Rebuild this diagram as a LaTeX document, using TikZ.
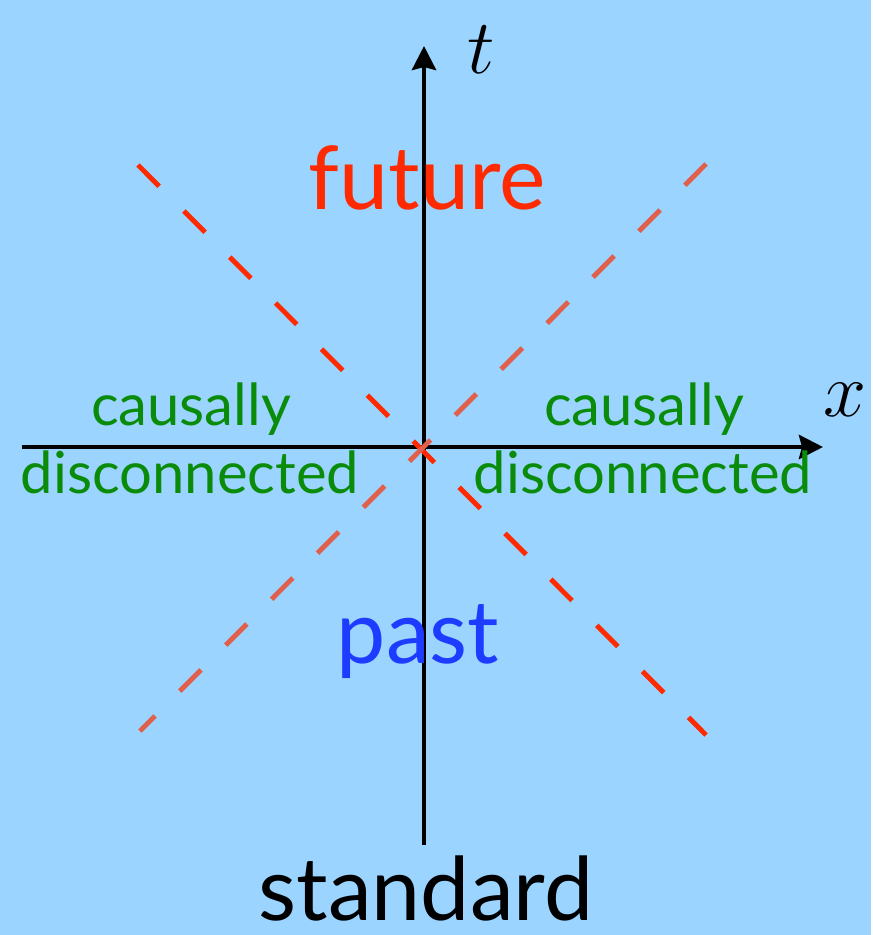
\RequirePackage{fix-cm}
\documentclass[tikz,border=0pt]{standalone}
\usepackage{fontspec}
\setmainfont{Lato}
\usepackage{xcolor}
\usetikzlibrary{arrows.meta,positioning,calc}

\definecolor{skyblue}{HTML}{9AD4FF}
\definecolor{futurered}{HTML}{FF2A00}
\definecolor{conered}{HTML}{E0604C}
\definecolor{pastblue}{HTML}{1E3CFF}
\definecolor{causegreen}{HTML}{0A8C0A}

\begin{document}
\begin{tikzpicture}[
  x=0.02cm, y=-0.02cm,
  axis/.style={line width=2.6pt, -{Stealth[length=0.48cm, width=0.48cm, inset=0.06cm]}},
  cone/.style={line width=2.8pt, dash pattern=on 0.6cm off 0.7cm},
  big/.style={font=\fontsize{50}{52}\selectfont, anchor=base, inner sep=0pt},
  small/.style={font=\fontsize{33}{35}\selectfont, causegreen, anchor=base, inner sep=0pt},
  axlabel/.style={font=\fontsize{44}{46}\selectfont}
]
\fill[skyblue] (0,0) rectangle (871,935);

% axes
\coordinate (O) at (424,447);
\coordinate (tlow) at (424,845);
\coordinate (ttop) at (424,46);
\coordinate (xlow) at (22,447);
\coordinate (xtop) at (823,447);
\draw[axis] (tlow) -- (ttop);
\draw[axis] (xlow) -- (xtop);
\node[axlabel] (tlab) at (481,50) {$t$};
\node[axlabel] (xlab) at (845,400) {$x$};

% light cone
\coordinate (nw) at (138,165);
\coordinate (se) at (706,735);
\coordinate (ne) at (706,164);
\coordinate (sw) at (140,731);
\draw[cone, futurered] (nw) -- (se);
\draw[cone, conered] (ne) -- (sw);

% regions
\node[big, futurered] (future) at (427,210) {future};
\node[big, pastblue] (past) at (418,663) {past};
\node[small] (causL) at (191,425) {causally};
\node[small] (discL) at (190,493) {disconnected};
\node[small] (causR) at (644,425) {causally};
\node[small] (discR) at (643,493) {disconnected};
\node[big] (standard) at (426,920) {standard};
\end{tikzpicture}
\end{document}
